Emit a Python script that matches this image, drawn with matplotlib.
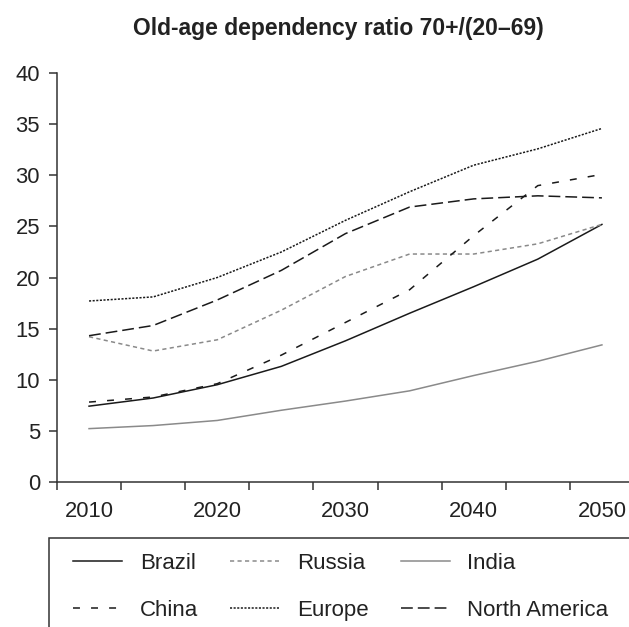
import matplotlib
matplotlib.use("Agg")
import matplotlib.pyplot as plt
from matplotlib.patches import Rectangle

plt.rcParams["font.family"] = ["Liberation Sans", "DejaVu Sans"]
plt.rcParams["lines.scale_dashes"] = False

# data
years = [2010, 2015, 2020, 2025, 2030, 2035, 2040, 2045, 2050]
year_labels = ["2010", "2020", "2030", "2040", "2050"]
brazil = [7.4, 8.2, 9.5, 11.3, 13.8, 16.5, 19.1, 21.8, 25.2]
russia = [14.2, 12.8, 13.9, 16.8, 20.1, 22.3, 22.3, 23.3, 25.2]
india = [5.2, 5.5, 6.0, 7.0, 7.9, 8.9, 10.4, 11.8, 13.4]
china = [7.8, 8.3, 9.6, 12.4, 15.6, 18.8, 24.1, 29.0, 30.1]
europe = [17.7, 18.1, 20.0, 22.5, 25.6, 28.4, 31.0, 32.6, 34.6]
north_america = [14.3, 15.3, 17.8, 20.7, 24.3, 26.9, 27.7, 28.0, 27.8]

fig = plt.figure(figsize=(6.29, 6.27), dpi=100)
ax = fig.add_axes([0.0906, 0.2317, 0.9173, 0.6514])

black = "#1a1a1a"
grey = "#8a8a8a"
lw = 1.1

l_brazil, = ax.plot(years, brazil, color=black, lw=lw, label="Brazil")
l_russia, = ax.plot(years, russia, color=grey, lw=lw, dashes=(3, 2.4), label="Russia")
l_india, = ax.plot(years, india, color=grey, lw=lw, label="India")
l_china, = ax.plot(years, china, color=black, lw=lw, dashes=(5, 8), label="China")
l_europe, = ax.plot(years, europe, color=black, lw=lw, dashes=(1.5, 1.1), label="Europe")
l_na, = ax.plot(years, north_america, color=black, lw=lw, dashes=(8.5, 3.6), label="North America")

ax.set_xlim(2007.5, 2052.5)
ax.set_ylim(0, 40)
ax.set_yticks(range(0, 41, 5))
ax.set_xticks(years[::2])
ax.set_xticklabels(year_labels)
ax.set_xticks([y - 2.5 for y in years] + [2052.5], minor=True)

for s in ["top", "right"]:
    ax.spines[s].set_visible(False)
for s in ["left", "bottom"]:
    ax.spines[s].set_color("#333333")
    ax.spines[s].set_linewidth(1.1)

ax.tick_params(axis="x", which="major", length=0, pad=14, labelsize=15.8, labelcolor="#222222")
ax.tick_params(axis="x", which="minor", length=5.8, width=1.1, color="#333333")
ax.tick_params(axis="y", length=5.8, width=1.1, color="#333333", pad=6.5,
               labelsize=15.8, labelcolor="#222222")

fig.text(338 / 629, 1 - 28 / 627, "Old-age dependency ratio 70+/(20\u201369)",
         ha="center", va="center", fontsize=16.5, fontweight="bold", color="#222222")

# legend: three columns, filled column-wise
handles = [l_brazil, l_china, l_russia, l_europe, l_india, l_na]
fig.legend(handles=handles, labels=[h.get_label() for h in handles], ncol=3,
           loc="upper left", bbox_to_anchor=(73 / 629, 1 - 553 / 627),
           frameon=False, fontsize=16, handlelength=2.2, handletextpad=0.8,
           columnspacing=1.45, labelspacing=1.17, borderpad=0, borderaxespad=0,
           labelcolor="#222222")

fig.patches.append(Rectangle((49.3 / 629, -0.1), 1.0, 0.1 + (627 - 537.7) / 627,
                             transform=fig.transFigure, fill=False,
                             edgecolor="#333333", linewidth=1.1))

fig.savefig("out.png", dpi=100)
